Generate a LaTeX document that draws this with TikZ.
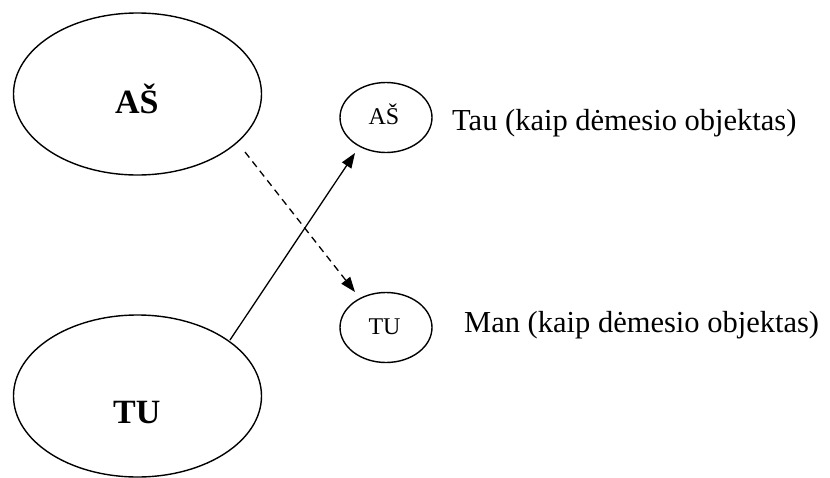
\documentclass[tikz,border=0pt]{standalone}
\usepackage{fontspec}
\setmainfont{Liberation Serif}
\usetikzlibrary{shapes.geometric,arrows.meta}
\begin{document}
\begin{tikzpicture}[x=1pt,y=-1pt,
  oval/.style={draw,ellipse,line width=1.4pt,inner sep=0pt},
  bigoval/.style={oval,minimum width=248pt,minimum height=162pt},
  smalloval/.style={oval,minimum width=92pt,minimum height=70pt},
  bigtext/.style={anchor=base west,inner sep=0pt,font=\fontsize{34}{40}\selectfont\bfseries},
  smalltext/.style={anchor=base,inner sep=0pt,font=\fontsize{24}{28}\selectfont},
  labeltext/.style={anchor=base west,inner sep=0pt,font=\fontsize{30.5}{36}\selectfont},
  link/.style={line width=1.3pt,-{Triangle[length=15pt,width=11pt]}},
  dashlink/.style={link,dash pattern=on 7pt off 5pt}]
\useasboundingbox (0,0) rectangle (830,477);
\node[bigoval] (as) at (137.5,94) {};
\node[bigoval] (tu) at (137.5,396) {};
\node[smalloval] (sas) at (386,117.5) {};
\node[smalloval] (stu) at (386,327.5) {};
\node[bigtext] (astxt) at (115,113.5) {AŠ};
\node[bigtext] (tutxt) at (113,423) {TU};
\node[smalltext] (sastxt) at (384,124) {AŠ};
\node[smalltext] (stutxt) at (384.5,334) {TU};
\node[labeltext] (tau) at (452,130) {Tau (kaip dėmesio objektas)};
\node[labeltext] (man) at (464,332) {Man (kaip dėmesio objektas)};
\coordinate (s1) at (230,340);
\coordinate (e1) at (355,153);
\coordinate (s2) at (245,152);
\coordinate (e2) at (355,292);
\draw[link] (s1) -- (e1);
\draw[dashlink] (s2) -- (e2);
\end{tikzpicture}
\end{document}
